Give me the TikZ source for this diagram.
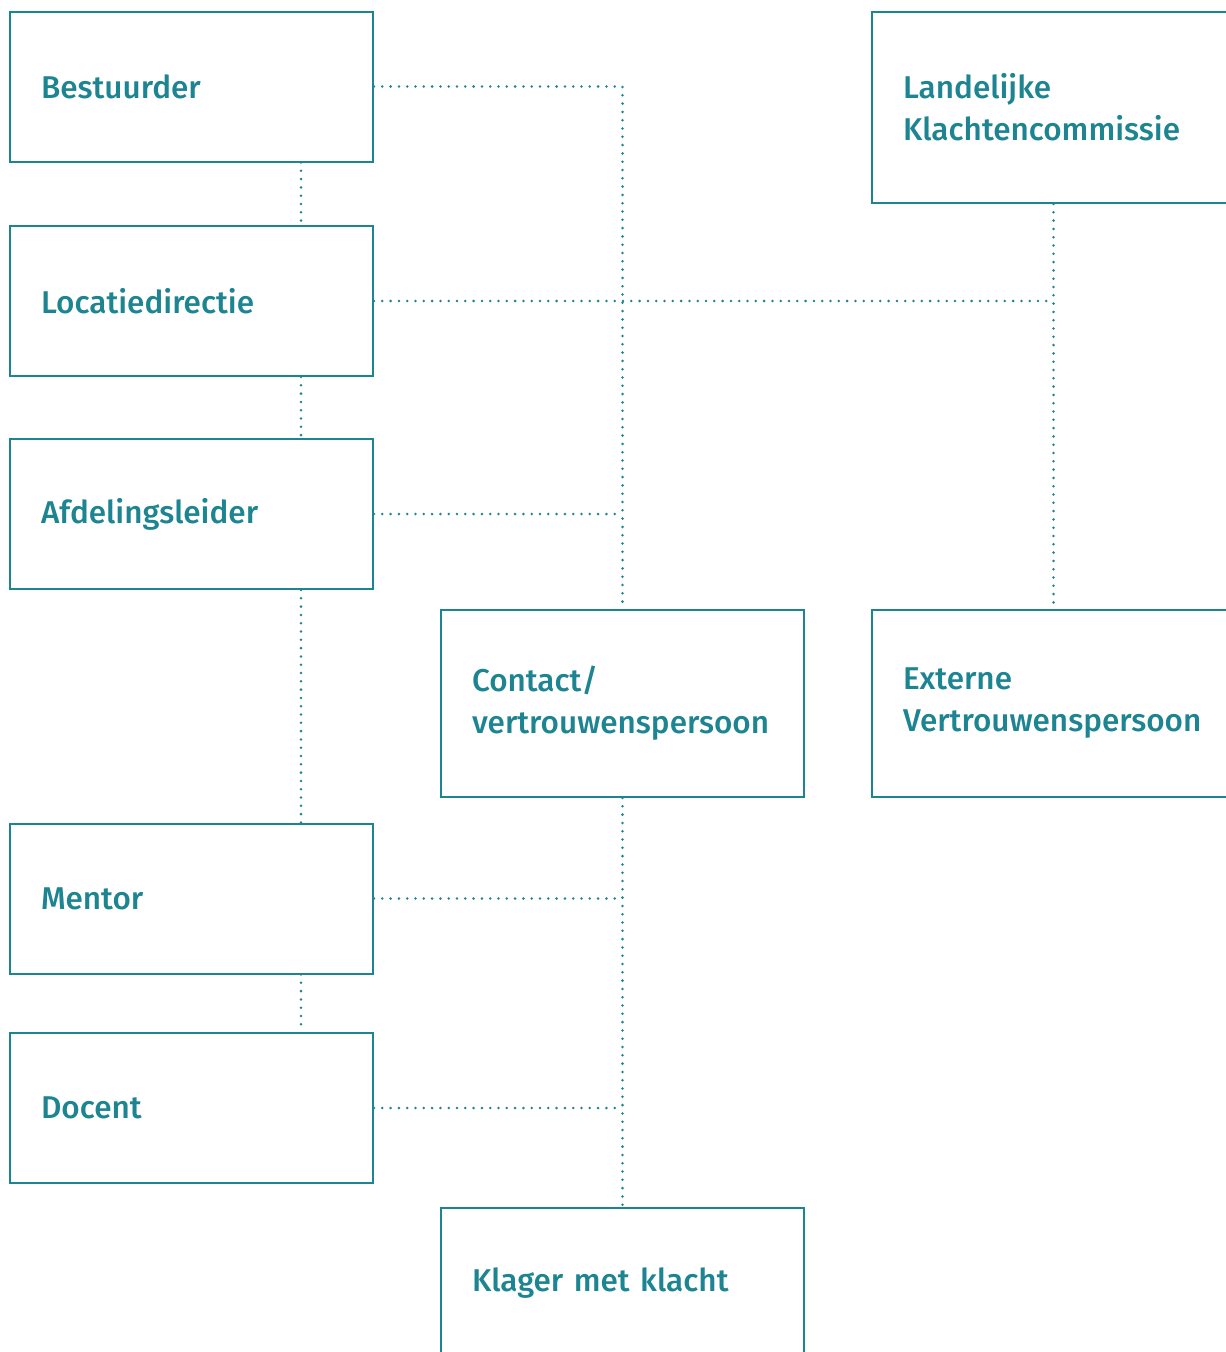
\documentclass[tikz,border=0pt]{standalone}
\usepackage{fontspec}
\setmainfont{Fira Sans}[UprightFont={* Medium}]
\usetikzlibrary{positioning}
\definecolor{teal}{HTML}{1D8491}

\begin{document}
\begin{tikzpicture}[x=1pt,y=-1pt,font=\fontsize{31.5}{42}\selectfont,
  box/.style={draw=teal,line width=2pt,text=teal,minimum width=363pt,
    text width=301pt,inner xsep=31pt,align=left,
    execute at begin node={\hyphenpenalty=10000\exhyphenpenalty=10000}},
  link/.style={teal,line width=2.8pt,line cap=round,dash pattern=on 0pt off 8.3pt}]
\useasboundingbox (0,0) rectangle (1226,1352);
% left column
\node[box,minimum height=150pt] (best) at (191.5,86.5) {Bestuurder};
\node[box,minimum height=150pt] (loc) at (191.5,301) {Locatiedirectie};
\node[box,minimum height=150pt] (afd) at (191.5,514) {Afdelingsleider};
\node[box,minimum height=150pt] (ment) at (191.5,898.5) {Mentor};
\node[box,minimum height=150pt] (doc) at (191.5,1108) {Docent};
% middle and right
\node[box,minimum height=187pt] (cont) at (622.5,703.5) {Contact/\\vertrouwenspersoon};
\node[box,minimum height=150pt] (klag) at (622.5,1283) {Klager met klacht};
\node[box,minimum height=191pt] (land) at (1053.5,107.5) {Landelijke\\Klachtencommissie};
\node[box,minimum height=187pt] (ext) at (1053.5,703.5) {Externe\\Vertrouwenspersoon};
\coordinate (spine) at (301,0);
% dotted links
\draw[link] (best.south -| spine) -- (loc.north -| spine);
\draw[link] (loc.south -| spine) -- (afd.north -| spine);
\draw[link] (afd.south -| spine) -- (ment.north -| spine);
\draw[link] (ment.south -| spine) -- (doc.north -| spine);
\draw[link] (best.east) -- (best.east -| cont.north) -- (cont.north);
\draw[link] (loc.east) -- (loc.east -| land.south);
\draw[link] (land.south) -- (ext.north);
\draw[link] (afd.east) -- (afd.east -| cont.north);
\draw[link] (cont.south) -- (klag.north);
\draw[link] (ment.east) -- (ment.east -| cont.south);
\draw[link] (doc.east) -- (doc.east -| cont.south);
\end{tikzpicture}
\end{document}
